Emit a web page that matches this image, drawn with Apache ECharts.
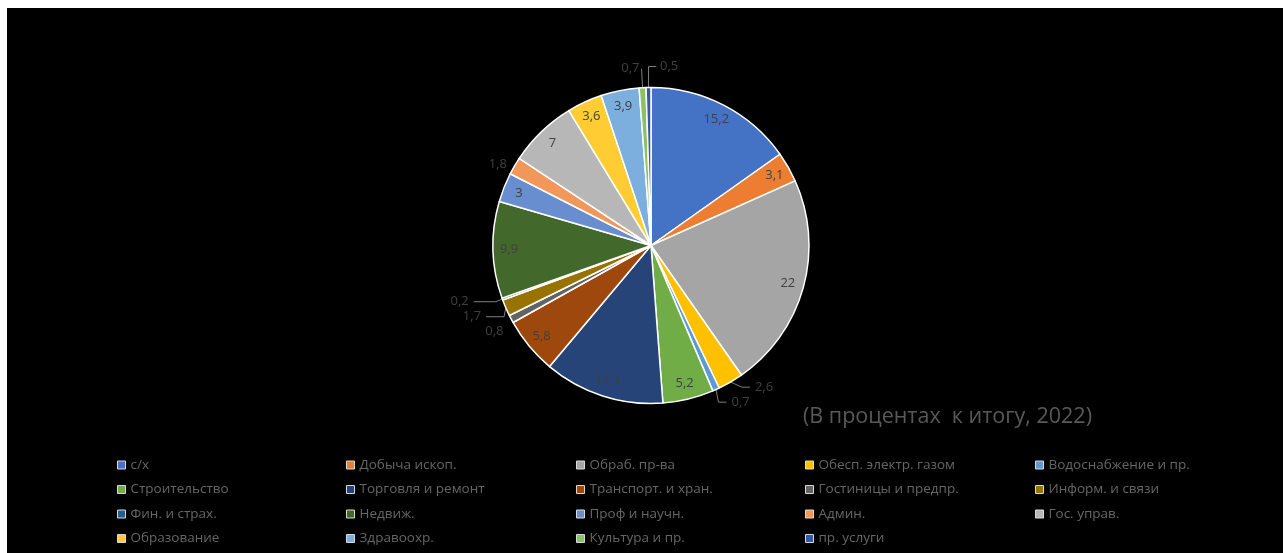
<!DOCTYPE html>
<html>
<head>
<meta charset="utf-8">
<script src="https://cdn.jsdelivr.net/npm/echarts@6/dist/echarts.min.js"></script>
<style>
  html, body { margin: 0; padding: 0; background: #ffffff; width: 1283px; height: 553px; overflow: hidden; }
  #chart { position: absolute; left: 7px; top: 8px; width: 1276px; height: 545px; background: #000000; }
</style>
</head>
<body>
<div id="chart"></div>
<script>
const categories = [
  'с/х', 'Добыча ископ.', 'Обраб. пр-ва', 'Обесп. электр. газом', 'Водоснабжение и пр.',
  'Строительство', 'Торговля и ремонт', 'Транспорт. и хран.', 'Гостиницы и предпр.', 'Информ. и связи',
  'Фин. и страх.', 'Недвиж.', 'Проф и научн.', 'Админ.', 'Гос. управ.',
  'Образование', 'Здравоохр.', 'Культура и пр.', 'пр. услуги'
];
const values = [15.2, 3.1, 22, 2.6, 0.7, 5.2, 12.3, 5.8, 0.8, 1.7, 0.2, 9.9, 3, 1.8, 7, 3.6, 3.9, 0.7, 0.5];
const colors = [
  '#4472C4', '#ED7D31', '#A5A5A5', '#FFC000', '#5B9BD5',
  '#70AD47', '#264478', '#9E480E', '#636363', '#997300',
  '#255E91', '#43682B', '#698ED0', '#F1975A', '#B7B7B7',
  '#FFCD33', '#7CAFDD', '#8CC168', '#335AA1'
];
const titleText = '(В процентах  к итогу, 2022)';

// label styling (not data)
const FONT = 'Open Sans';
const LABEL_COLOR = '#404040';
const noLeader = ['Гостиницы и предпр.', 'Админ.'];
const longLeader = {
  'Информ. и связи': { length: 3, length2: 18 },
  'Фин. и страх.': { length: 8, length2: 22 }
};
const topLabels = {
  'Культура и пр.': { length: 19, length2: 0, padding: 0 },
  'пр. услуги': { length: 21, length2: -8, padding: [0, -24, 0, 0] }
};

const fmt = p => String(p.value).replace('.', ',');
const isSmall = v => v < 3;

const chart = echarts.init(document.getElementById('chart'), null, { renderer: 'canvas' });

const mainData = categories.map((name, i) => {
  const small = isSmall(values[i]) && !topLabels[name];
  const item = {
    name, value: values[i],
    itemStyle: { color: colors[i] },
    label: { show: small },
    labelLine: { show: small }
  };
  if (noLeader.includes(name)) {
    item.labelLine = { show: false, length: 3, length2: 0 };
  }
  if (longLeader[name]) {
    item.labelLine = Object.assign({ show: true }, longLeader[name]);
  }
  return item;
});
const insideData = categories.map((name, i) => ({
  name, value: values[i],
  label: { show: !isSmall(values[i]) }
}));
const topData = categories.map((name, i) => {
  const t = topLabels[name];
  return {
    name, value: values[i],
    label: t ? { show: true, padding: t.padding, distanceToLabelLine: 2 } : { show: false },
    labelLine: t ? { show: true, length: t.length, length2: t.length2 } : { show: false }
  };
});

const colX = [110, 339, 569, 798, 1028];
const legends = colX.map((x, c) => ({
  orient: 'vertical',
  left: x, top: 449,
  padding: 0,
  height: 96,
  itemWidth: 8, itemHeight: 8, itemGap: 8.5,
  icon: 'rect',
  selectedMode: false,
  itemStyle: { borderColor: '#d9d9d9', borderWidth: 1 },
  textStyle: { color: '#666666', fontFamily: FONT, fontSize: 13.5, lineHeight: 16, padding: [0, 0, 0, 0] },
  data: categories.filter((_, i) => i % 5 === c)
}));

const common = {
  type: 'pie',
  center: [644, 237.5],
  startAngle: 90,
  clockwise: true,
  emphasis: { disabled: true }
};
const labelStyle = { formatter: fmt, color: LABEL_COLOR, fontFamily: FONT, fontSize: 13 };

chart.setOption({
  backgroundColor: '#000000',
  color: colors,
  animation: false,
  title: {
    text: titleText,
    left: 791, top: 393,
    textStyle: { color: '#595959', fontFamily: FONT, fontSize: 21.5, fontWeight: 'normal' }
  },
  legend: legends,
  series: [
    Object.assign({}, common, {
      radius: [0, 158],
      avoidLabelOverlap: true,
      itemStyle: { borderColor: '#ffffff', borderWidth: 1.5 },
      label: Object.assign({ position: 'outside' }, labelStyle),
      labelLine: { length: 6, length2: 8, lineStyle: { color: '#7f7f7f', width: 1 } },
      data: mainData
    }),
    Object.assign({}, common, {
      radius: [120, 158],
      silent: true,
      itemStyle: { color: 'rgba(0,0,0,0)', borderWidth: 0 },
      label: Object.assign({ position: 'inside' }, labelStyle),
      labelLine: { show: false },
      data: insideData
    }),
    Object.assign({}, common, {
      radius: [0, 158],
      silent: true,
      avoidLabelOverlap: false,
      itemStyle: { color: 'rgba(0,0,0,0)', borderWidth: 0 },
      label: Object.assign({ position: 'outside' }, labelStyle),
      labelLine: { lineStyle: { color: '#7f7f7f', width: 1 } },
      data: topData
    })
  ]
});
</script>
</body>
</html>
